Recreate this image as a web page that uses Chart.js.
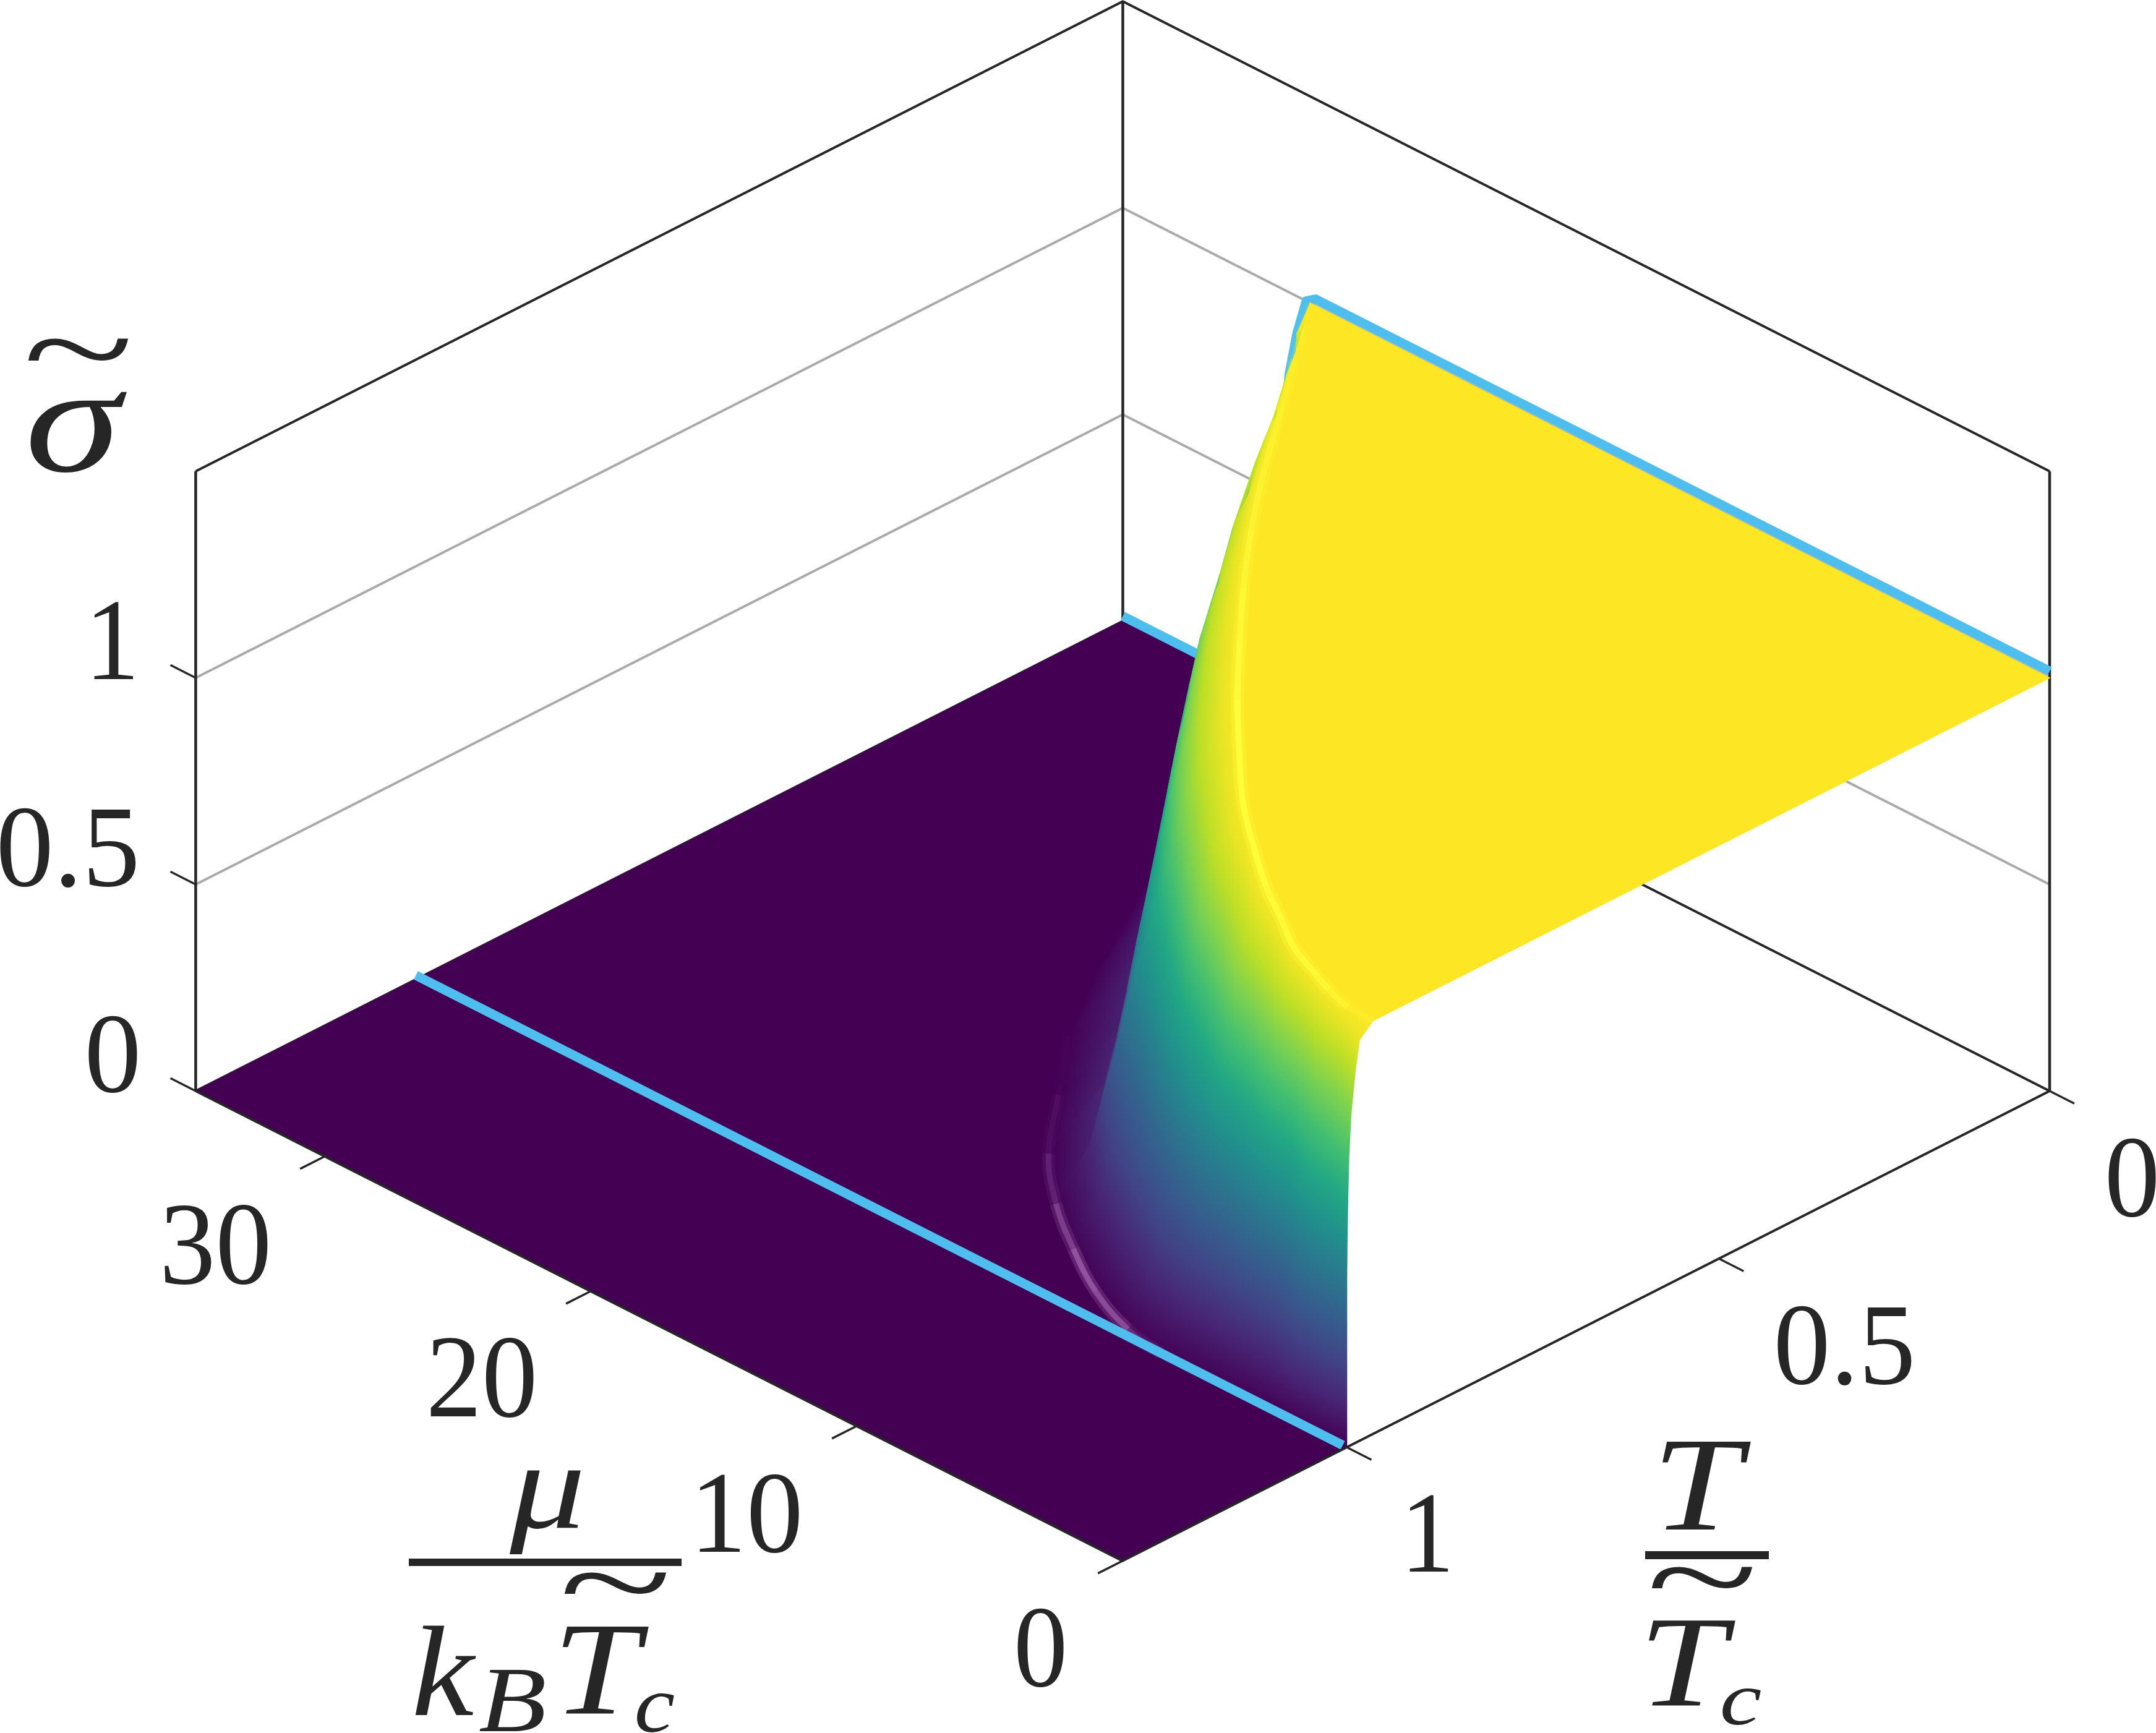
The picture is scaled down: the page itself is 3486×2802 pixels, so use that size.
<!DOCTYPE html>
<html>
<head>
<meta charset="utf-8">
<title>sigma surface</title>
<script src="https://cdn.jsdelivr.net/npm/chart.js@4"></script>
<style>
  html, body { margin: 0; padding: 0; background: #fff; }
  canvas { display: block; }
</style>
</head>
<body>
<canvas id="chart" width="3486" height="2802"></canvas>
<script>
const muTicks = [0, 10, 20, 30];
const muTickLabels = ["0", "10", "20", "30"];
const tTicks = [0, 0.4705, 1]; // the 0.5 tick sits off-centre in the picture
const tTickLabels = ["0", "0.5", "1"];
const sigmaTicks = [0, 0.5, 1];
const sigmaTickLabels = ["0", "0.5", "1"];
const sigmaGrid = [0.5, 1];

const muMax = 34.85;
const tMax = 1.319;
const sigmaMax = 1.5;

// surface: T position of each sigma level along each mu row
const levels = [1, 0.97, 0.9, 0.8, 0.7, 0.6, 0.5, 0.4, 0.3, 0.2, 0.1, 0];
const muRows = [0, 1, 2, 3, 4.2, 5.5, 7, 8.5, 10.5, 12.5, 14.5, 16.5, 18.5, 20.5, 22.5, 24.5, 26, 27, 27.8, 28.3, 29];
const rowCap = [1, 1, 1, 1, 1, 1, 1, 1, 1, 1, 1, 1, 1, 1, 1, 1, 1, 1, 1, 0.91, 0];
const contourT = [
  [0.963, 0.982, 0.988, 0.994, 0.997, 0.9985, 0.9995, 1, 1, 1, 1, 1],
  [0.961, 0.966, 0.972, 0.98, 0.985, 0.989, 0.992, 0.995, 0.998, 1, 1, 1],
  [0.95, 0.955, 0.963, 0.97, 0.975, 0.98, 0.984, 0.988, 0.992, 0.995, 0.998, 1],
  [0.935, 0.94, 0.948, 0.9545, 0.959, 0.963, 0.9675, 0.972, 0.977, 0.984, 0.99, 1],
  [0.916, 0.922, 0.933, 0.941, 0.947, 0.952, 0.958, 0.964, 0.971, 0.979, 0.987, 1],
  [0.885, 0.893, 0.908, 0.9195, 0.9275, 0.934, 0.9425, 0.9505, 0.96, 0.971, 0.983, 1],
  [0.85, 0.861, 0.88, 0.895, 0.9055, 0.9145, 0.925, 0.9355, 0.9475, 0.9625, 0.9775, 1],
  [0.809, 0.821, 0.84, 0.859, 0.872, 0.883, 0.8965, 0.91, 0.925, 0.943, 0.962, 0.99],
  [0.75, 0.766, 0.791, 0.8115, 0.826, 0.838, 0.8525, 0.867, 0.883, 0.904, 0.924, 0.96],
  [0.68, 0.698, 0.727, 0.751, 0.767, 0.781, 0.798, 0.8145, 0.833, 0.857, 0.881, 0.916],
  [0.607, 0.628, 0.66, 0.686, 0.704, 0.723, 0.744, 0.762, 0.781, 0.799, 0.817, 0.865],
  [0.528, 0.549, 0.582, 0.61, 0.629, 0.645, 0.661, 0.675, 0.688, 0.702, 0.721, 0.8],
  [0.447, 0.468, 0.5, 0.523, 0.542, 0.555, 0.568, 0.579, 0.589, 0.6, 0.615, 0.71],
  [0.36, 0.38, 0.409, 0.433, 0.448, 0.461, 0.472, 0.482, 0.49, 0.5, 0.513, 0.62],
  [0.266, 0.284, 0.31, 0.329, 0.343, 0.355, 0.364, 0.371, 0.378, 0.385, 0.397, 0.5],
  [0.165, 0.18, 0.202, 0.218, 0.229, 0.239, 0.247, 0.253, 0.259, 0.264, 0.274, 0.36],
  [0.092, 0.102, 0.116, 0.127, 0.134, 0.141, 0.146, 0.15, 0.153, 0.157, 0.164, 0.22],
  [0.04, 0.045, 0.053, 0.059, 0.063, 0.067, 0.069, 0.0715, 0.0736, 0.0757, 0.079, 0.11],
  [0, 0.003, 0.008, 0.015, 0.02, 0.024, 0.028, 0.032, 0.037, 0.043, 0.05, 0.06],
  [0, 0, 0, 0.003, 0.005, 0.007, 0.009, 0.011, 0.013, 0.016, 0.018, 0.022],
  [0, 0, 0, 0, 0, 0, 0, 0, 0, 0, 0, 0],
];

// bright creases along the top and bottom of the step, one alpha per mu row
const yellowRidgeAlpha = [0.2, 0.5, 0.7, 0.8, 0.9, 0.9, 1, 1, 1, 1, 0.9, 0.75, 0.6, 0.5, 0.4, 0.3, 0.2, 0.1, 0];
const pinkRidgeAlpha = [0, 0, 0, 0, 0, 0, 0.4, 0.75, 0.85, 0.6, 0.3, 0.12, 0.03, 0];

// the two blue traces
const blueBackMu = [0, 27.6, 27.95, 28.3, 28.6, 29.5, 34.85];
const blueBackSigma = [1.016, 1.016, 1, 0.91, 0.8, 0.012, 0.012];
const blueFrontMu = [0.15, 35];

const viridis = ["#fde725", "#eae525", "#bddf26", "#7ad151", "#44bf70", "#22a884", "#21918c", "#2a788e", "#355f8d", "#414487", "#482475", "#440154"];

const INK = "#262626";
const GRID = "#aaaaaa";
const BLUE = "#4dbeee";
const FLOOR = "#440154";
const TOP = "#fde725";

function project(mu, t, s) {
  return {
    x: 3314 - 1136.5 * t - 43 * mu,
    y: 1764 + 576 * t - 21.8 * mu - 668 * s,
  };
}

const layers = [];

function addLine(points, color, width, extra) {
  layers.push({
    data: points,
    showLine: true,
    pointRadius: 0,
    borderColor: color,
    borderWidth: width,
    backgroundColor: "transparent",
    fill: false,
    tension: 0,
    borderCapStyle: "butt",
    borderJoinStyle: "round",
    ...extra,
  });
}

function addPolygon(points, colorFrom, colorTo) {
  layers.push({
    data: points,
    showLine: false,
    pointRadius: 0,
    polygon: { colorFrom, colorTo },
  });
}

// back walls
for (const s of sigmaGrid) {
  addLine([project(muMax, tMax, s), project(muMax, 0, s), project(0, 0, s)], GRID, 4);
}
addLine([project(muMax, tMax, sigmaMax), project(muMax, 0, sigmaMax), project(0, 0, sigmaMax)], INK, 4);
addLine([project(muMax, tMax, 0), project(muMax, tMax, sigmaMax)], INK, 4.5);
addLine([project(muMax, 0, 0), project(muMax, 0, sigmaMax)], INK, 4.5);
addLine([project(0, 0, 0), project(0, 0, sigmaMax)], INK, 4.5);
addLine([project(muMax, tMax, 0), project(muMax, 0, 0), project(0, 0, 0)], INK, 4);

// floor, cut along the foot of the step
const lastRow = muRows.indexOf(27.8);
const floorEdge = [];
for (let i = 0; i <= lastRow; i++) {
  floorEdge.push(project(muRows[i], contourT[i][levels.length - 1], 0));
}
addPolygon(
  [project(muMax, 0, 0), project(muMax, tMax, 0), project(0, tMax, 0), ...floorEdge, project(29, 0, 0)],
  FLOOR, FLOOR
);

addLine(blueBackMu.map((m, i) => project(m, 0, blueBackSigma[i])), BLUE, 15);

// the step itself, back to front
for (let i = muRows.length - 2; i >= 0; i--) {
  for (let l = 0; l < levels.length - 1; l++) {
    addPolygon([
      project(muRows[i], contourT[i][l], Math.min(levels[l], rowCap[i])),
      project(muRows[i + 1], contourT[i + 1][l], Math.min(levels[l], rowCap[i + 1])),
      project(muRows[i + 1], contourT[i + 1][l + 1], Math.min(levels[l + 1], rowCap[i + 1])),
      project(muRows[i], contourT[i][l + 1], Math.min(levels[l + 1], rowCap[i])),
    ], viridis[l], viridis[l + 1]);
  }
}

// flat top of the step goes over the back of the step
const topEdge = [];
for (let i = 0; i <= lastRow; i++) {
  topEdge.push(project(muRows[i], contourT[i][0], 1));
}
addPolygon([project(0, 0, 1), ...topEdge], TOP, TOP);

function ridgeSegment(rgb, alphas, k) {
  return {
    borderColor: (ctx) => `rgba(${rgb},${alphas[ctx.p0DataIndex] * k})`,
  };
}
const yellowRidge = yellowRidgeAlpha.map((_, i) => project(muRows[i], contourT[i][0], 1));
addLine(yellowRidge, "rgba(255,255,60,0)", 22, { tension: 0.4, segment: ridgeSegment("255,255,60", yellowRidgeAlpha, 0.3) });
addLine(yellowRidge, "rgba(255,255,60,0)", 10, { tension: 0.4, segment: ridgeSegment("255,255,60", yellowRidgeAlpha, 0.8) });
const pinkRidge = pinkRidgeAlpha.map((_, i) => project(muRows[i], contourT[i][levels.length - 1], 0));
addLine(pinkRidge, "rgba(190,130,200,0)", 20, { tension: 0.4, segment: ridgeSegment("190,130,200", pinkRidgeAlpha, 0.3) });
addLine(pinkRidge, "rgba(190,130,200,0)", 9, { tension: 0.4, segment: ridgeSegment("190,130,200", pinkRidgeAlpha, 0.6) });

addLine(blueFrontMu.map((m) => project(m, 1, 0)), BLUE, 15);

// front axes and ticks
addLine([project(muMax, tMax, 0), project(0, tMax, 0), project(0, 0, 0)], INK, 4);
for (const m of muTicks) {
  addLine([project(m, tMax, 0), project(m, tMax + 0.035, 0)], INK, 3.5);
}
for (const t of tTicks) {
  addLine([project(0, t, 0), project(-0.93, t, 0)], INK, 3.5);
}
for (const s of sigmaTicks) {
  addLine([project(muMax, tMax, s), project(muMax + 0.95, tMax, s)], INK, 3.5);
}

layers.forEach((d, i) => { d.order = layers.length - i; });

// real text, each piece fitted to the box it fills in the picture
const SERIF = '"Liberation Serif"';
const textBoxes = [
  [sigmaTickLabels[2], "", 152, 974, 215, 1098],
  [sigmaTickLabels[1], "", 0, 1306, 220, 1435],
  [sigmaTickLabels[0], "", 143, 1642, 222, 1767],
  [muTickLabels[3], "", 266, 1948, 433, 2077],
  [muTickLabels[2], "", 696, 2163, 863, 2292],
  [muTickLabels[1], "", 1131, 2384, 1292, 2511],
  [muTickLabels[0], "", 1645, 2601, 1720, 2728],
  [tTickLabels[0], "", 3409, 1841, 3486, 1968],
  [tTickLabels[1], "", 2874, 2111, 3091, 2240],
  [tTickLabels[2], "", 2279, 2418, 2341, 2541],
  ["σ", "italic", 48, 634, 205, 764],
  ["~", "", 45, 547, 208, 583],
  ["μ", "italic", 823, 2377, 939, 2512],
  ["~", "", 912, 2542, 1078, 2577],
  ["k", "italic", 671, 2628, 770, 2773],
  ["B", "italic", 775, 2700, 880, 2799],
  ["T", "italic", 910, 2630, 1050, 2770],
  ["c", "italic", 1030, 2738, 1090, 2801],
  ["T", "italic", 2688, 2331, 2832, 2473],
  ["~", "", 2670, 2533, 2834, 2568],
  ["T", "italic", 2666, 2620, 2807, 2758],
  ["c", "italic", 2785, 2730, 2847, 2789],
];
const fractionBars = [
  [661, 2520, 441, 12],
  [2660, 2508, 200, 13],
];

function drawBoxText(ctx, [str, style, x0, y0, x1, y1]) {
  ctx.font = `${style} 200px ${SERIF}`;
  const m = ctx.measureText(str);
  const sx = (x1 - x0) / (m.actualBoundingBoxLeft + m.actualBoundingBoxRight);
  const sy = (y1 - y0) / (m.actualBoundingBoxAscent + m.actualBoundingBoxDescent);
  ctx.save();
  ctx.translate(x0 + m.actualBoundingBoxLeft * sx, y0 + m.actualBoundingBoxAscent * sy);
  ctx.scale(sx, sy);
  ctx.fillText(str, 0, 0);
  ctx.restore();
}

// colour runs across the strip, with iso-lines following its two contour edges
function stripGradient(ctx, [a, b, c, d], colorFrom, colorTo) {
  const unit = (p, q) => {
    const dx = q.x - p.x, dy = q.y - p.y;
    const len = Math.hypot(dx, dy);
    return len > 0.01 ? { x: dx / len, y: dy / len } : { x: 0, y: 0 };
  };
  const u1 = unit(a, b), u2 = unit(d, c);
  let dirX = u1.x + u2.x, dirY = u1.y + u2.y;
  const len = Math.hypot(dirX, dirY);
  if (len < 0.01) return colorFrom;
  dirX /= len; dirY /= len;
  const nx = -dirY, ny = dirX;
  const mx = (a.x + b.x) / 2, my = (a.y + b.y) / 2;
  const dist = ((c.x + d.x) / 2 - mx) * nx + ((c.y + d.y) / 2 - my) * ny;
  if (Math.abs(dist) < 0.01) return colorFrom;
  const g = ctx.createLinearGradient(mx, my, mx + nx * dist, my + ny * dist);
  g.addColorStop(0, colorFrom);
  g.addColorStop(1, colorTo);
  return g;
}

const surfacePlugin = {
  id: "surface",
  beforeDatasetDraw(chart, args) {
    const poly = chart.data.datasets[args.index].polygon;
    if (!poly) return;
    const ctx = chart.ctx;
    const pts = args.meta.data;
    const style = poly.colorFrom === poly.colorTo
      ? poly.colorFrom
      : stripGradient(ctx, pts, poly.colorFrom, poly.colorTo);
    ctx.save();
    ctx.beginPath();
    pts.forEach((p, i) => (i ? ctx.lineTo(p.x, p.y) : ctx.moveTo(p.x, p.y)));
    ctx.closePath();
    ctx.fillStyle = style;
    ctx.strokeStyle = style;
    ctx.lineWidth = 1.5;
    ctx.lineJoin = "round";
    ctx.fill();
    ctx.stroke();
    ctx.restore();
  },
  afterDraw(chart) {
    const ctx = chart.ctx;
    ctx.save();
    ctx.fillStyle = INK;
    ctx.textAlign = "left";
    ctx.textBaseline = "alphabetic";
    textBoxes.forEach((b) => drawBoxText(ctx, b));
    fractionBars.forEach(([x, y, w, h]) => ctx.fillRect(x, y, w, h));
    ctx.restore();
  },
};

new Chart(document.getElementById("chart"), {
  type: "scatter",
  data: { datasets: layers },
  plugins: [surfacePlugin],
  options: {
    responsive: false,
    animation: false,
    devicePixelRatio: 1,
    layout: { padding: 0 },
    clip: false,
    plugins: { legend: { display: false }, tooltip: { enabled: false } },
    scales: {
      x: { type: "linear", min: 0, max: 3486, display: false },
      y: { type: "linear", min: 0, max: 2802, reverse: true, display: false },
    },
  },
});
</script>
</body>
</html>
